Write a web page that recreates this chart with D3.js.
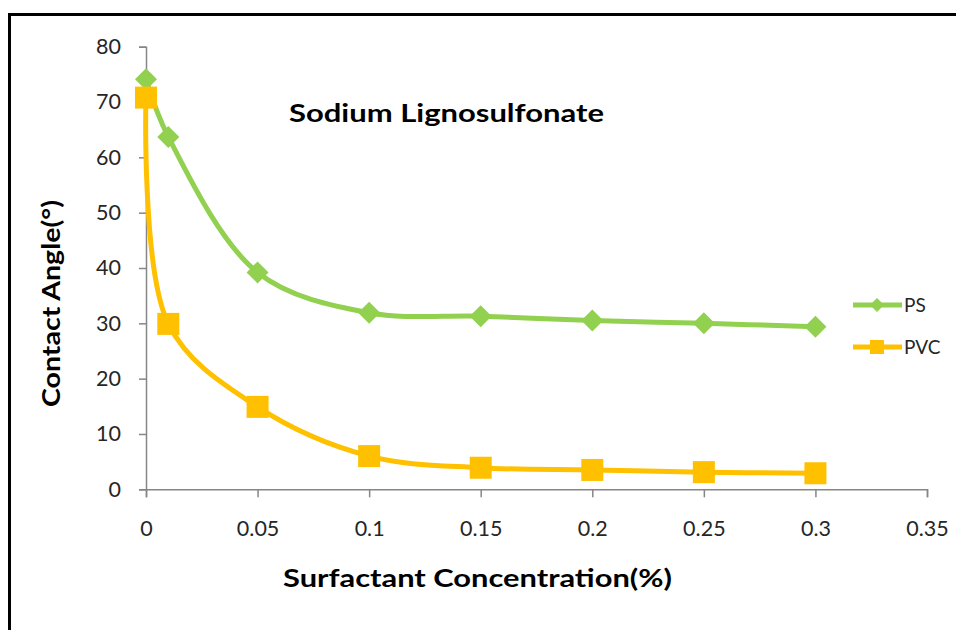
<!DOCTYPE html>
<html><head><meta charset="utf-8">
<script src="https://cdn.jsdelivr.net/npm/d3@7"></script>
<style>body{margin:0;background:#fff}svg{display:block}</style>
</head><body>
<svg id="c" width="956" height="630"></svg>
<script>
const concentrations = [0, 0.01, 0.05, 0.1, 0.15, 0.2, 0.25, 0.3];
const psValues = [74.1, 63.7, 39.2, 31.9, 31.3, 30.5, 30.0, 29.4];
const pvcValues = [70.8, 29.9, 14.9, 6.0, 3.9, 3.5, 3.1, 2.9];
const xTicks = [0, 0.05, 0.1, 0.15, 0.2, 0.25, 0.3, 0.35];
const xTickLabels = ["0", "0.05", "0.1", "0.15", "0.2", "0.25", "0.3", "0.35"];
const yTicks = [0, 10, 20, 30, 40, 50, 60, 70, 80];
const seriesNames = ["PS", "PVC"];
const chartTitle = "Sodium Lignosulfonate";
const xTitle = "Surfactant Concentration(%)";
const yTitle = "Contact Angle(°)";

const svg = d3.select("#c");
const font = "Lato, 'Open Sans', sans-serif";
const green = "#92D050", gold = "#FFC000", axisCol = "#868686", txt = "#262626";

// outer frame
svg.append("rect").attr("x", 9.5).attr("y", 14.5).attr("width", 1000).attr("height", 700)
  .attr("fill", "none").attr("stroke", "#000").attr("stroke-width", 3);

const x = d3.scaleLinear().domain([0, 0.35]).range([146, 927]);
const y = d3.scaleLinear().domain([0, 80]).range([489.3, 46.7]);

// y axis
const ya = svg.append("g").attr("transform", `translate(${x(0)},0)`)
  .call(d3.axisLeft(y).tickValues(yTicks).tickSize(7).tickPadding(18).tickFormat(d3.format("d")));
ya.select(".domain").attr("stroke", axisCol).attr("stroke-width", 1.5);
ya.selectAll(".tick line").attr("stroke", axisCol).attr("stroke-width", 1.5);
ya.selectAll(".tick text").attr("font-family", font).attr("font-size", 21.5).attr("fill", txt);

// x axis
const xa = svg.append("g").attr("transform", `translate(0,${y(0)})`)
  .call(d3.axisBottom(x).tickValues(xTicks).tickSize(8).tickFormat((d, i) => xTickLabels[i]));
xa.select(".domain").attr("stroke", axisCol).attr("stroke-width", 1.5);
xa.selectAll(".tick line").attr("stroke", axisCol).attr("stroke-width", 1.5);
xa.selectAll(".tick text").attr("font-family", font).attr("font-size", 21.5).attr("fill", txt)
  .attr("y", 39).attr("dy", "0.35em");

// lines
const curve = d3.curveCatmullRom.alpha(0.5);
const line = d3.line().x(d => x(d[0])).y(d => y(d[1])).curve(curve);
const psData = concentrations.map((c, i) => [c, psValues[i]]);
const pvcData = concentrations.map((c, i) => [c, pvcValues[i]]);

svg.append("path").datum(psData).attr("d", line).attr("fill", "none")
  .attr("stroke", green).attr("stroke-width", 5);
svg.append("path").datum(pvcData).attr("d", line).attr("fill", "none")
  .attr("stroke", gold).attr("stroke-width", 5);

const diamond = s => `M0,${-s}L${s},0L0,${s}L${-s},0Z`;
svg.append("g").selectAll("path").data(psData).join("path")
  .attr("transform", d => `translate(${x(d[0])},${y(d[1])})`)
  .attr("d", diamond(11)).attr("fill", green);
svg.append("g").selectAll("rect").data(pvcData).join("rect")
  .attr("x", d => x(d[0]) - 11).attr("y", d => y(d[1]) - 11)
  .attr("width", 22).attr("height", 22).attr("fill", gold);

// legend
const lg = svg.append("g");
[[green, 305], [gold, 347]].forEach(([col, ly], i) => {
  lg.append("line").attr("x1", 853).attr("x2", 902).attr("y1", ly).attr("y2", ly)
    .attr("stroke", col).attr("stroke-width", 5);
  if (i === 0) lg.append("path").attr("transform", `translate(877,${ly})`).attr("d", diamond(7)).attr("fill", col);
  else lg.append("rect").attr("x", 870).attr("y", ly - 7).attr("width", 14).attr("height", 14).attr("fill", col);
  lg.append("text").attr("x", 904).attr("y", ly).attr("dy", "0.35em")
    .attr("font-family", font).attr("font-size", 19).attr("fill", txt).text(seriesNames[i]);
});

// titles
svg.append("text").attr("x", 289).attr("y", 122).attr("font-family", font).attr("font-weight", "bold")
  .attr("font-size", 24).attr("fill", "#000").attr("textLength", 315).attr("lengthAdjust", "spacingAndGlyphs")
  .text(chartTitle);
svg.append("text").attr("x", 283).attr("y", 587).attr("font-family", font).attr("font-weight", "bold")
  .attr("font-size", 25).attr("fill", "#000").attr("textLength", 389).attr("lengthAdjust", "spacingAndGlyphs")
  .text(xTitle);
svg.append("text").attr("transform", "translate(60,407) rotate(-90)").attr("font-family", font)
  .attr("font-weight", "bold").attr("font-size", 25).attr("fill", "#000")
  .attr("textLength", 207).attr("lengthAdjust", "spacingAndGlyphs").text(yTitle);
</script>
</body></html>
